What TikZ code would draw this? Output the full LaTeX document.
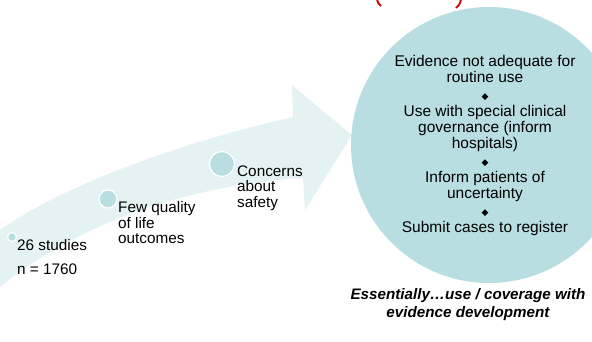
\documentclass[tikz,border=0pt]{standalone}
\usepackage{fontspec}
\setmainfont{Liberation Sans}
\newfontfamily\symfont{DejaVu Sans}
\definecolor{circfill}{RGB}{184,222,225}
\definecolor{bandfill}{RGB}{229,242,244}
\definecolor{parred}{RGB}{204,16,16}
\newcommand{\lozmark}{{\symfont\fontsize{9}{9}\selectfont ◆}}
\begin{document}
\begin{tikzpicture}[x=1pt,y=-1pt,
    dot/.style={circle,fill=circfill,draw=white,line width=1.2pt,inner sep=0pt},
    lefttext/.style={anchor=west,inner sep=0pt,align=left,font=\fontsize{15.3}{15.5}\selectfont},
    circletext/.style={inner sep=0pt,align=center,font=\fontsize{15.5}{16}\selectfont},
    notetext/.style={inner sep=0pt,align=center,font=\fontsize{15.2}{18}\selectfont\bfseries\itshape}]
    \useasboundingbox (0,0) rectangle (592,341);
    \clip (0,0) rectangle (592,341);
    % red brackets cut at the top
    \draw[parred,line width=2pt] (377,-1) .. controls (378,3) .. (381,6);
    \draw[parred,line width=2pt] (461,-1) .. controls (460,4) .. (456,8);
    % rising arrow
    \fill[bandfill] (0,230) .. controls (60,188) and (170,145) .. (293,117)
        -- (292,85) -- (352,135) -- (305,210) -- (303,178)
        .. controls (190,185) and (80,222) .. (0,287) -- cycle;
    \node[circle,fill=circfill,inner sep=0pt,minimum size=276pt] (plan) at (489,145) {};
    \node[dot,minimum size=9pt] (dotA) at (12,237) {};
    \node[dot,minimum size=18pt] (dotB) at (108,199) {};
    \node[dot,minimum size=25pt] (dotC) at (222,164) {};
    \node[lefttext] (studies) at (17,257) {26 studies\\[8pt]n = 1760};
    \node[lefttext] (quality) at (118,223) {Few quality\\of life\\outcomes};
    \node[lefttext] (safety) at (237,188) {Concerns\\about\\safety};
    \node[circletext] (steps) at (485,145) {Evidence not adequate for\\routine use\\[1pt]
        \lozmark\\[1pt]
        Use with special clinical\\governance (inform\\hospitals)\\[1pt]
        \lozmark\\[1pt]
        Inform patients of\\uncertainty\\[1pt]
        \lozmark\\[1pt]
        Submit cases to register};
    \node[notetext] (note) at (468,305) {Essentially…use / coverage with\\evidence development};
\end{tikzpicture}
\end{document}
